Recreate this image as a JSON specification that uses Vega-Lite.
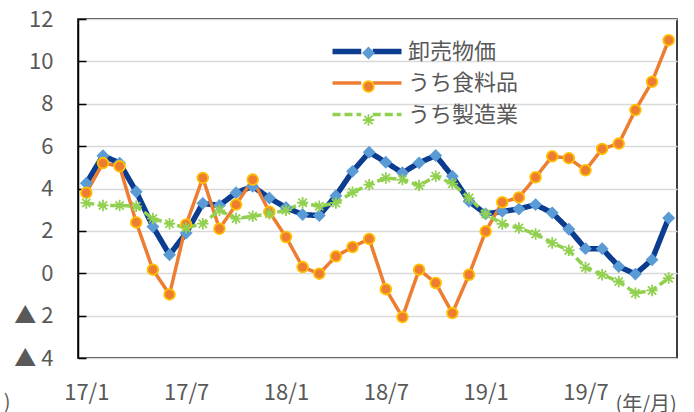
{
  "$schema": "https://vega.github.io/schema/vega-lite/v6.json",
  "width": 599,
  "height": 339,
  "autosize": {"type": "none"},
  "padding": {"left": 78, "top": 19, "right": 17, "bottom": 54},
  "background": "white",
  "config": {
    "view": {"stroke": "#000000", "strokeWidth": 1.5},
    "font": "Noto Sans CJK JP"
  },
  "data": {
    "values": [
      {"month": "2017-01", "series": "卸売物価", "value": 4.25},
      {"month": "2017-02", "series": "卸売物価", "value": 5.55},
      {"month": "2017-03", "series": "卸売物価", "value": 5.2},
      {"month": "2017-04", "series": "卸売物価", "value": 3.85},
      {"month": "2017-05", "series": "卸売物価", "value": 2.2},
      {"month": "2017-06", "series": "卸売物価", "value": 0.87},
      {"month": "2017-07", "series": "卸売物価", "value": 1.9},
      {"month": "2017-08", "series": "卸売物価", "value": 3.3},
      {"month": "2017-09", "series": "卸売物価", "value": 3.2},
      {"month": "2017-10", "series": "卸売物価", "value": 3.8},
      {"month": "2017-11", "series": "卸売物価", "value": 4.1},
      {"month": "2017-12", "series": "卸売物価", "value": 3.55},
      {"month": "2018-01", "series": "卸売物価", "value": 3.1},
      {"month": "2018-02", "series": "卸売物価", "value": 2.77},
      {"month": "2018-03", "series": "卸売物価", "value": 2.72},
      {"month": "2018-04", "series": "卸売物価", "value": 3.66},
      {"month": "2018-05", "series": "卸売物価", "value": 4.81},
      {"month": "2018-06", "series": "卸売物価", "value": 5.71},
      {"month": "2018-07", "series": "卸売物価", "value": 5.24},
      {"month": "2018-08", "series": "卸売物価", "value": 4.74},
      {"month": "2018-09", "series": "卸売物価", "value": 5.21},
      {"month": "2018-10", "series": "卸売物価", "value": 5.56},
      {"month": "2018-11", "series": "卸売物価", "value": 4.58},
      {"month": "2018-12", "series": "卸売物価", "value": 3.4},
      {"month": "2019-01", "series": "卸売物価", "value": 2.8},
      {"month": "2019-02", "series": "卸売物価", "value": 2.92},
      {"month": "2019-03", "series": "卸売物価", "value": 3.03},
      {"month": "2019-04", "series": "卸売物価", "value": 3.24},
      {"month": "2019-05", "series": "卸売物価", "value": 2.85},
      {"month": "2019-06", "series": "卸売物価", "value": 2.08},
      {"month": "2019-07", "series": "卸売物価", "value": 1.16},
      {"month": "2019-08", "series": "卸売物価", "value": 1.16},
      {"month": "2019-09", "series": "卸売物価", "value": 0.32},
      {"month": "2019-10", "series": "卸売物価", "value": -0.04},
      {"month": "2019-11", "series": "卸売物価", "value": 0.64},
      {"month": "2019-12", "series": "卸売物価", "value": 2.61},
      {"month": "2017-01", "series": "うち食料品", "value": 3.8},
      {"month": "2017-02", "series": "うち食料品", "value": 5.2},
      {"month": "2017-03", "series": "うち食料品", "value": 5.05},
      {"month": "2017-04", "series": "うち食料品", "value": 2.4},
      {"month": "2017-05", "series": "うち食料品", "value": 0.17},
      {"month": "2017-06", "series": "うち食料品", "value": -1.0},
      {"month": "2017-07", "series": "うち食料品", "value": 2.3},
      {"month": "2017-08", "series": "うち食料品", "value": 4.5},
      {"month": "2017-09", "series": "うち食料品", "value": 2.1},
      {"month": "2017-10", "series": "うち食料品", "value": 3.24},
      {"month": "2017-11", "series": "うち食料品", "value": 4.42},
      {"month": "2017-12", "series": "うち食料品", "value": 2.9},
      {"month": "2018-01", "series": "うち食料品", "value": 1.71},
      {"month": "2018-02", "series": "うち食料品", "value": 0.29},
      {"month": "2018-03", "series": "うち食料品", "value": -0.02},
      {"month": "2018-04", "series": "うち食料品", "value": 0.8},
      {"month": "2018-05", "series": "うち食料品", "value": 1.24},
      {"month": "2018-06", "series": "うち食料品", "value": 1.62},
      {"month": "2018-07", "series": "うち食料品", "value": -0.75},
      {"month": "2018-08", "series": "うち食料品", "value": -2.07},
      {"month": "2018-09", "series": "うち食料品", "value": 0.17},
      {"month": "2018-10", "series": "うち食料品", "value": -0.46},
      {"month": "2018-11", "series": "うち食料品", "value": -1.88},
      {"month": "2018-12", "series": "うち食料品", "value": -0.07},
      {"month": "2019-01", "series": "うち食料品", "value": 1.98},
      {"month": "2019-02", "series": "うち食料品", "value": 3.35},
      {"month": "2019-03", "series": "うち食料品", "value": 3.58},
      {"month": "2019-04", "series": "うち食料品", "value": 4.53},
      {"month": "2019-05", "series": "うち食料品", "value": 5.52},
      {"month": "2019-06", "series": "うち食料品", "value": 5.43},
      {"month": "2019-07", "series": "うち食料品", "value": 4.86},
      {"month": "2019-08", "series": "うち食料品", "value": 5.87},
      {"month": "2019-09", "series": "うち食料品", "value": 6.12},
      {"month": "2019-10", "series": "うち食料品", "value": 7.7},
      {"month": "2019-11", "series": "うち食料品", "value": 9.04},
      {"month": "2019-12", "series": "うち食料品", "value": 11.0},
      {"month": "2017-01", "series": "うち製造業", "value": 3.32},
      {"month": "2017-02", "series": "うち製造業", "value": 3.2},
      {"month": "2017-03", "series": "うち製造業", "value": 3.2},
      {"month": "2017-04", "series": "うち製造業", "value": 3.16},
      {"month": "2017-05", "series": "うち製造業", "value": 2.58},
      {"month": "2017-06", "series": "うち製造業", "value": 2.34},
      {"month": "2017-07", "series": "うち製造業", "value": 2.15},
      {"month": "2017-08", "series": "うち製造業", "value": 2.34},
      {"month": "2017-09", "series": "うち製造業", "value": 2.97},
      {"month": "2017-10", "series": "うち製造業", "value": 2.58},
      {"month": "2017-11", "series": "うち製造業", "value": 2.69},
      {"month": "2017-12", "series": "うち製造業", "value": 2.81},
      {"month": "2018-01", "series": "うち製造業", "value": 2.97},
      {"month": "2018-02", "series": "うち製造業", "value": 3.33},
      {"month": "2018-03", "series": "うち製造業", "value": 3.16},
      {"month": "2018-04", "series": "うち製造業", "value": 3.32},
      {"month": "2018-05", "series": "うち製造業", "value": 3.82},
      {"month": "2018-06", "series": "うち製造業", "value": 4.18},
      {"month": "2018-07", "series": "うち製造業", "value": 4.5},
      {"month": "2018-08", "series": "うち製造業", "value": 4.42},
      {"month": "2018-09", "series": "うち製造業", "value": 4.14},
      {"month": "2018-10", "series": "うち製造業", "value": 4.58},
      {"month": "2018-11", "series": "うち製造業", "value": 4.23},
      {"month": "2018-12", "series": "うち製造業", "value": 3.55},
      {"month": "2019-01", "series": "うち製造業", "value": 2.8},
      {"month": "2019-02", "series": "うち製造業", "value": 2.33},
      {"month": "2019-03", "series": "うち製造業", "value": 2.14},
      {"month": "2019-04", "series": "うち製造業", "value": 1.85},
      {"month": "2019-05", "series": "うち製造業", "value": 1.43},
      {"month": "2019-06", "series": "うち製造業", "value": 1.08},
      {"month": "2019-07", "series": "うち製造業", "value": 0.27},
      {"month": "2019-08", "series": "うち製造業", "value": -0.07},
      {"month": "2019-09", "series": "うち製造業", "value": -0.39},
      {"month": "2019-10", "series": "うち製造業", "value": -0.94},
      {"month": "2019-11", "series": "うち製造業", "value": -0.81},
      {"month": "2019-12", "series": "うち製造業", "value": -0.23}
    ]
  },
  "encoding": {
    "x": {
      "field": "month",
      "type": "ordinal",
      "scale": {"type": "point", "padding": 0.5},
      "axis": {
        "values": ["2017-01", "2017-07", "2018-01", "2018-07", "2019-01", "2019-07"],
        "labelExpr": "substring(datum.value, 2, 4) + '/' + toNumber(substring(datum.value, 5, 7))",
        "labelAngle": 0,
        "ticks": false,
        "domain": false,
        "grid": false,
        "labelFont": "Noto Sans CJK JP",
        "labelFontSize": 22,
        "labelColor": "#595959",
        "labelPadding": 24,
        "title": "(年/月)",
        "titleX": 537,
        "titleY": 52,
        "titleAlign": "left",
        "titleBaseline": "alphabetic",
        "titleFont": "Noto Sans CJK JP",
        "titleFontSize": 20,
        "titleFontWeight": "normal",
        "titleColor": "#595959"
      }
    },
    "y": {
      "field": "value",
      "type": "quantitative",
      "scale": {"domain": [-4, 12], "nice": false, "zero": false},
      "axis": {
        "values": [-4, -2, 0, 2, 4, 6, 8, 10, 12],
        "labelExpr": "datum.value < 0 ? '▲\u00a0' + toString(abs(datum.value)) : toString(datum.value)",
        "tickSize": -8,
        "tickColor": "#000000",
        "tickWidth": 1.5,
        "domainColor": "#000000",
        "domainWidth": 1.5,
        "gridColor": "#D9D9D9",
        "gridWidth": 1.5,
        "labelFont": "Noto Sans CJK JP",
        "labelFontSize": 22,
        "labelColor": "#595959",
        "labelPadding": 33,
        "labelLimit": 300,
        "labelOverlap": false,
        "title": ")",
        "titleAngle": 0,
        "titleAlign": "right",
        "titleX": -68,
        "titleY": 389,
        "titleBaseline": "alphabetic",
        "titleFont": "Noto Sans CJK JP",
        "titleFontSize": 20,
        "titleFontWeight": "normal",
        "titleColor": "#595959"
      }
    }
  },
  "layer": [
    {
      "transform": [{"filter": "datum.series === '卸売物価'"}],
      "mark": {"type": "line", "strokeWidth": 5.5, "strokeJoin": "round"},
      "encoding": {
        "color": {
          "field": "series", "type": "nominal",
          "scale": {"domain": ["卸売物価", "うち食料品", "うち製造業"], "range": ["#0C3C8F", "#ED7D31", "#92D050"]},
          "legend": {
            "title": null, "orient": "none", "legendX": 278, "legendY": 21.5,
            "symbolType": "M-3,0H-0.5M0.5,0H3", "symbolSize": 529,
            "labelOffset": 30, "labelFontSize": 22, "labelColor": "#595959", "labelFont": "Noto Sans CJK JP",
            "rowPadding": 9.5, "padding": 0, "symbolStrokeWidth": 3.5,
            "encode": {"symbols": {"update": {"strokeWidth": {"signal": "datum.value === '卸売物価' ? 5.5 : 3.5"}}}}
          }
        },
        "strokeDash": {
          "field": "series", "type": "nominal",
          "scale": {"domain": ["卸売物価", "うち食料品", "うち製造業"], "range": [[1, 0], [1, 0], [8, 4]]}
        }
      }
    },
    {
      "transform": [{"filter": "datum.series !== '卸売物価'"}],
      "mark": {"type": "line", "strokeWidth": 3.5, "strokeJoin": "round"},
      "encoding": {
        "color": {
          "field": "series", "type": "nominal",
          "scale": {"domain": ["卸売物価", "うち食料品", "うち製造業"], "range": ["#0C3C8F", "#ED7D31", "#92D050"]}
        },
        "strokeDash": {
          "field": "series", "type": "nominal",
          "scale": {"domain": ["卸売物価", "うち食料品", "うち製造業"], "range": [[1, 0], [1, 0], [8, 4]]}
        }
      }
    },
    {
      "mark": {"type": "point", "size": 529, "opacity": 1, "strokeWidth": 1.8},
      "encoding": {
        "shape": {
          "field": "series", "type": "nominal",
          "sort": "descending",
          "scale": {"range": [
            "M0,-0.45L0.45,0L0,0.45L-0.45,0Z",
            "M0.465,0C0.465,0.257,0.257,0.465,0,0.465C-0.257,0.465,-0.465,0.257,-0.465,0C-0.465,-0.257,-0.257,-0.465,0,-0.465C0.257,-0.465,0.465,-0.257,0.465,0Z",
            "M-0.5,0H0.5M0,-0.5V0.5M-0.36,-0.36L0.36,0.36M-0.36,0.36L0.36,-0.36"
          ]},
          "legend": {
            "title": null, "orient": "none", "legendX": 278, "legendY": 21.5,
            "symbolSize": 529, "labelOffset": 30, "labelFontSize": 22, "labelOpacity": 0,
            "labelFont": "Noto Sans CJK JP", "rowPadding": 9.5, "padding": 0, "symbolStrokeWidth": 1.8
          }
        },
        "fill": {
          "field": "series", "type": "nominal",
          "sort": "descending",
          "scale": {"range": ["#5B9BD5", "#ED7D31", "transparent"]},
          "legend": {
            "title": null, "orient": "none", "legendX": 278, "legendY": 21.5,
            "symbolSize": 529, "labelOffset": 30, "labelFontSize": 22, "labelOpacity": 0,
            "labelFont": "Noto Sans CJK JP", "rowPadding": 9.5, "padding": 0, "symbolStrokeWidth": 1.8
          }
        },
        "stroke": {
          "field": "series", "type": "nominal",
          "sort": "descending",
          "scale": {"range": ["#5B9BD5", "#FFC000", "#92D050"]},
          "legend": {
            "title": null, "orient": "none", "legendX": 278, "legendY": 21.5,
            "symbolSize": 529, "labelOffset": 30, "labelFontSize": 22, "labelOpacity": 0,
            "labelFont": "Noto Sans CJK JP", "rowPadding": 9.5, "padding": 0, "symbolStrokeWidth": 1.8
          }
        }
      }
    }
  ]
}
